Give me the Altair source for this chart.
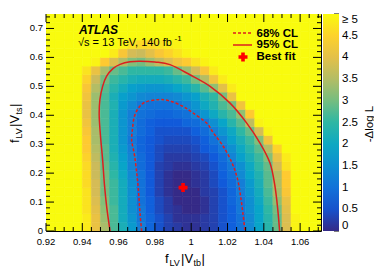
import altair as alt
import pandas as pd

FONT = "Liberation Sans"
RED_LINE = "#dc1f1f"
RED_MARK = "#ff0000"
W, H = 275, 217

# ---- axes ----------------------------------------------------------------
x_domain = [0.92, 1.0715]
y_domain = [0.0, 0.75]
x_major = [0.92, 0.94, 0.96, 0.98, 1.00, 1.02, 1.04, 1.06]
x_labels = ["0.92", "0.94", "0.96", "0.98", "1", "1.02", "1.04", "1.06"]
x_minor = [0.925, 0.93, 0.935, 0.945, 0.95, 0.955, 0.965, 0.97, 0.975,
           0.985, 0.99, 0.995, 1.005, 1.01, 1.015, 1.025, 1.03, 1.035,
           1.045, 1.05, 1.055, 1.065, 1.07]
y_major = [0.0, 0.1, 0.2, 0.3, 0.4, 0.5, 0.6, 0.7]
y_labels = ["0", "0.1", "0.2", "0.3", "0.4", "0.5", "0.6", "0.7"]
y_minor = [0.02, 0.04, 0.06, 0.08, 0.12, 0.14, 0.16, 0.18, 0.22, 0.24, 0.26,
           0.28, 0.32, 0.34, 0.36, 0.38, 0.42, 0.44, 0.46, 0.48, 0.52, 0.54,
           0.56, 0.58, 0.62, 0.64, 0.66, 0.68, 0.72, 0.74]
cbar_values = [0, 0.5, 1, 1.5, 2, 2.5, 3, 3.5, 4, 4.5, 5]
cbar_minor = [round(0.1 * k, 1) for k in range(51) if k % 5]
CBAR_MAX = 5.0

# ---- -Delta log L map (bins of 0.005 x 0.03), values in tenths; 50 = ">= 5"
x_bin_lo = [round(0.920 + 0.005 * i, 4) for i in range(31)]
y_bin_lo = [round(0.030 * j, 4) for j in range(25)]
nll_tenths = [
    [50, 50, 50, 50, 48, 41, 34, 27, 22, 17, 12, 8, 5, 3, 2, 1, 1, 2, 3, 5, 7, 10, 14, 19, 24, 29, 39, 49],
    [50, 50, 50, 50, 48, 41, 33, 27, 21, 16, 11, 8, 5, 3, 1, 1, 1, 2, 3, 5, 7, 10, 14, 19, 24, 29, 39, 49],
    [50, 50, 50, 50, 47, 40, 32, 27, 21, 15, 11, 7, 4, 2, 1, 0, 0, 1, 3, 5, 7, 11, 15, 19, 25, 30, 40],
    [50, 50, 50, 50, 47, 39, 31, 26, 21, 15, 10, 7, 4, 2, 0, 0, 0, 1, 3, 5, 8, 11, 15, 20, 26, 32, 41],
    [50, 50, 50, 50, 47, 38, 30, 26, 21, 15, 10, 6, 3, 1, 0, 0, 0, 2, 3, 5, 8, 12, 16, 21, 27, 34, 43],
    [50, 50, 50, 50, 46, 38, 30, 26, 21, 15, 10, 6, 3, 1, 0, 0, 1, 2, 4, 6, 9, 12, 17, 22, 28, 35, 44],
    [50, 50, 50, 50, 46, 37, 30, 25, 20, 14, 10, 6, 3, 1, 0, 0, 1, 2, 4, 7, 10, 14, 19, 23, 28, 35, 44],
    [50, 50, 50, 50, 46, 37, 29, 24, 19, 13, 9, 6, 3, 2, 1, 1, 2, 3, 5, 8, 11, 15, 20, 25, 29, 38, 47],
    [50, 50, 50, 50, 45, 36, 28, 23, 18, 13, 9, 6, 4, 2, 2, 2, 3, 4, 6, 9, 13, 18, 22, 26, 31, 41, 48],
    [50, 50, 50, 50, 44, 35, 28, 22, 17, 12, 8, 6, 4, 3, 3, 3, 4, 6, 8, 11, 15, 20, 24, 28, 35, 45],
    [50, 50, 50, 50, 44, 34, 27, 22, 16, 11, 8, 6, 5, 4, 4, 4, 5, 7, 10, 13, 18, 22, 26, 31, 42],
    [50, 50, 50, 50, 43, 34, 27, 22, 16, 12, 9, 7, 5, 5, 5, 5, 7, 9, 12, 16, 20, 25, 29, 38, 49],
    [50, 50, 50, 50, 42, 33, 27, 22, 16, 12, 9, 7, 6, 6, 6, 8, 9, 11, 15, 19, 24, 28, 36, 49],
    [50, 50, 50, 50, 41, 33, 27, 22, 16, 12, 10, 9, 8, 8, 9, 10, 13, 16, 20, 24, 27, 32, 44],
    [50, 50, 50, 50, 41, 33, 27, 23, 17, 14, 11, 10, 10, 10, 11, 13, 16, 20, 23, 27, 30, 42],
    [50, 50, 50, 50, 42, 33, 27, 22, 18, 16, 14, 13, 13, 13, 14, 16, 18, 22, 25, 30, 41],
    [50, 50, 50, 50, 43, 35, 28, 24, 21, 18, 17, 16, 16, 17, 19, 21, 24, 28, 32, 40, 48],
    [50, 50, 50, 50, 45, 37, 30, 26, 24, 22, 21, 21, 21, 22, 24, 26, 30, 35, 42, 48],
    [50, 50, 50, 50, 47, 41, 34, 29, 27, 25, 25, 25, 25, 26, 29, 33, 38, 43, 48],
    [50, 50, 50, 50, 50, 49, 44, 39, 35, 31, 30, 33, 36, 39, 42, 44, 47, 49],
    [50, 50, 50, 50, 50, 50, 50, 48, 43, 38, 37, 40, 43, 45, 47, 49],
    [50, 50, 50, 50, 50, 50, 50, 50, 49, 47, 46, 46, 47, 48, 49],
    [],
    [],
    [],
]

# ---- contours and best fit ----------------------------------------------
cl95_x = [0.9553, 0.9535, 0.9522, 0.9512, 0.9500, 0.9493, 0.9497, 0.9512,
          0.9534, 0.9570, 0.9608, 0.9663, 0.9718, 0.9800, 0.9883, 0.9993,
          1.0104, 1.0214, 1.0306, 1.0379, 1.0434, 1.0460, 1.0476, 1.0487]
cl95_y = [0.000, 0.080, 0.160, 0.246, 0.330, 0.400, 0.454, 0.500,
          0.535, 0.562, 0.576, 0.585, 0.587, 0.584, 0.575, 0.540,
          0.500, 0.442, 0.373, 0.304, 0.235, 0.160, 0.080, 0.000]
cl68_x = [0.9727, 0.9718, 0.9709, 0.9700, 0.9688, 0.9675, 0.9672, 0.9676,
          0.9690, 0.9736, 0.9819, 0.9880, 0.9950, 1.0005, 1.0085, 1.0122,
          1.0177, 1.0225, 1.0255, 1.0272, 1.0285, 1.0296]
cl68_y = [0.000, 0.060, 0.142, 0.200, 0.260, 0.300, 0.315, 0.350,
          0.402, 0.442, 0.454, 0.450, 0.432, 0.410, 0.373, 0.339,
          0.292, 0.235, 0.180, 0.120, 0.060, 0.000]
best_fit_x = [0.9955]
best_fit_y = [0.150]

# ---- colour map (ROOT kBird) ---------------------------------------------
bird = ["#352a87", "#0f5cdd", "#1481d6", "#06a4ca", "#2eb7a4",
        "#87bf77", "#d1bb59", "#fec832", "#f9fb0e"]
stops = [0, 0.625, 1.25, 1.875, 2.5, 3.125, 3.75, 4.375, 5]


def bird_hex(v):
    """Same colour as the fill scale; used for the hairline cell edges."""
    v = min(max(v, stops[0]), stops[-1])
    for k in range(len(stops) - 1):
        if v <= stops[k + 1]:
            f = (v - stops[k]) / (stops[k + 1] - stops[k])
            a = [int(bird[k][p:p + 2], 16) for p in (1, 3, 5)]
            b = [int(bird[k + 1][p:p + 2], 16) for p in (1, 3, 5)]
            return "#" + "".join("%02x" % round(a[c] + f * (b[c] - a[c])) for c in range(3))
    return bird[-1]


# ---- tables ---------------------------------------------------------------
recs = []
for j, row in enumerate(nll_tenths):
    full = list(row) + [50] * (len(x_bin_lo) - len(row))
    for i, v in enumerate(full[:len(x_bin_lo)]):
        recs.append({"x0": x_bin_lo[i], "x1": round(x_bin_lo[i] + 0.005, 4),
                     "y0": y_bin_lo[j], "y1": round(y_bin_lo[j] + 0.03, 4),
                     "v": v / 10.0, "edge": bird_hex(v / 10.0)})
heat_df = pd.DataFrame(recs)
c95_df = pd.DataFrame({"x": cl95_x, "y": cl95_y, "i": list(range(len(cl95_x)))})
c68_df = pd.DataFrame({"x": cl68_x, "y": cl68_y, "i": list(range(len(cl68_x)))})
bf_df = pd.DataFrame({"x": best_fit_x, "y": best_fit_y})
xl_df = pd.DataFrame({"t": x_major, "lab": x_labels})
yl_df = pd.DataFrame({"t": y_major, "lab": y_labels})
ONE = pd.DataFrame({"k": [0]})

xs = alt.Scale(domain=x_domain, nice=False, zero=False)
ys = alt.Scale(domain=y_domain, nice=False, zero=False)
cscale = alt.Scale(domain=stops, range=bird, interpolate="rgb", clamp=True)

heat = alt.Chart(heat_df).mark_rect(clip=True, strokeWidth=0.6).encode(
    x=alt.X("x0:Q", scale=xs, axis=None),
    x2="x1:Q",
    y=alt.Y("y0:Q", scale=ys, axis=None),
    y2="y1:Q",
    color=alt.Color("v:Q", scale=cscale, legend=alt.Legend(
        type="gradient", title=None, orient="right", offset=2, padding=0,
        direction="vertical", gradientLength=H, gradientThickness=16,
        gradientStrokeWidth=0, values=cbar_values, labelOverlap=False,
        labelFont=FONT, labelFontSize=11.5, labelColor="black",
        labelOffset=3, labelBaseline="middle",
        labelExpr="datum.value >= 5 ? '\u2265 5' : format(datum.value, '~g')")),
    stroke=alt.Stroke("edge:N", scale=None),
)


def contour(df, dash=None):
    kw = dict(color=RED_LINE, strokeWidth=1.5, interpolate="cardinal", clip=True)
    if dash:
        kw["strokeDash"] = dash
    return alt.Chart(df).mark_line(**kw).encode(
        x=alt.X("x:Q", scale=xs, axis=None),
        y=alt.Y("y:Q", scale=ys, axis=None),
        order=alt.Order("i:Q"))


best = alt.Chart(bf_df).mark_point(shape="cross", filled=True, size=81,
                                   color=RED_MARK, opacity=1).encode(
    x=alt.X("x:Q", scale=xs, axis=None), y=alt.Y("y:Q", scale=ys, axis=None))


def xticks(vals, y0, y1):
    return alt.Chart(pd.DataFrame({"t": vals})).mark_rule(
        color="black", strokeWidth=1).encode(
        x=alt.X("t:Q", scale=xs, axis=None), y=alt.value(y0), y2=alt.value(y1))


def yticks(vals, x0, x1):
    return alt.Chart(pd.DataFrame({"t": vals})).mark_rule(
        color="black", strokeWidth=1).encode(
        y=alt.Y("t:Q", scale=ys, axis=None), x=alt.value(x0), x2=alt.value(x1))


def cbar_ticks(vals, length):
    # colour-bar ticks: the bar spans the full plot height, 0 .. CBAR_MAX
    df = pd.DataFrame({"t": [v / CBAR_MAX * y_domain[1] for v in vals]})
    return alt.Chart(df).mark_rule(color="black", strokeWidth=1).encode(
        y=alt.Y("t:Q", scale=ys, axis=None),
        x=alt.value(W + 18 - length), x2=alt.value(W + 18))


x_ticklabels = alt.Chart(xl_df).mark_text(
    font=FONT, fontSize=9.5, color="black", align="center",
    baseline="alphabetic").encode(
    x=alt.X("t:Q", scale=xs, axis=None), y=alt.value(H + 14), text="lab:N")

y_ticklabels = alt.Chart(yl_df).mark_text(
    font=FONT, fontSize=9.5, color="black", align="right",
    baseline="middle").encode(
    y=alt.Y("t:Q", scale=ys, axis=None), x=alt.value(-3), text="lab:N")


def txt(s, x, y, size, weight="normal", style="normal", angle=0,
        align="left", color="black"):
    return alt.Chart(ONE).mark_text(
        text=s, font=FONT, fontSize=size, fontWeight=weight, fontStyle=style,
        angle=angle, align=align, baseline="alphabetic", color=color).encode(
        x=alt.value(x), y=alt.value(y))


def hline(x0, x1, y, dash=None):
    kw = dict(color=RED_LINE, strokeWidth=1.5)
    if dash:
        kw["strokeDash"] = dash
    return alt.Chart(ONE).mark_rule(**kw).encode(
        x=alt.value(x0), x2=alt.value(x1), y=alt.value(y))


layers = [
    heat,
    contour(c95_df),
    contour(c68_df, dash=[3, 2]),
    best,
    xticks(x_major, H, H - 8), xticks(x_minor, H, H - 4),
    xticks(x_major, 0, 8), xticks(x_minor, 0, 4),
    yticks(y_major, 0, 8), yticks(y_minor, 0, 4),
    yticks(y_major, W, W - 8), yticks(y_minor, W, W - 4),
    cbar_ticks(cbar_values, 5), cbar_ticks(cbar_minor, 2.5),
    x_ticklabels, y_ticklabels,
    # x title  f_LV |V_tb|
    txt("f", 119, 249, 13), txt("LV", 123.5, 252, 9), txt("|V", 135, 249, 13),
    txt("tb", 147.5, 252, 9), txt("|", 155.5, 249, 13),
    # y title  f_LV |V_ts|
    txt("f", -27.5, 129, 13, angle=270), txt("LV", -24, 124.5, 9, angle=270),
    txt("|V", -27.5, 113, 13, angle=270), txt("ts", -24, 100.5, 9, angle=270),
    txt("|", -27.5, 93, 13, angle=270),
    # colour bar title
    txt("-\u0394log L", 327, 110, 11.5, angle=270, align="center"),
    # labels
    txt("ATLAS", 33, 19.5, 12, weight="bold", style="italic"),
    txt("\u221as = 13 TeV, 140 fb", 32, 31.5, 11),
    txt("-1", 128.5, 27, 8),
    # legend
    hline(187, 206, 19, dash=[3, 2]),
    hline(187, 206, 31),
    alt.Chart(ONE).mark_point(shape="cross", filled=True, size=81,
                              color=RED_MARK, opacity=1).encode(
        x=alt.value(197), y=alt.value(43)),
    txt("68% CL", 210.5, 22.5, 11.5, weight="bold"),
    txt("95% CL", 210.5, 34, 11.5, weight="bold"),
    txt("Best fit", 210.5, 46, 11.5, weight="bold"),
]

chart = alt.layer(*layers).properties(
    width=W, height=H,
    autosize=alt.AutoSizeParams(type="none"),
    padding={"left": 38, "top": 6, "right": 53, "bottom": 37},
).configure(font=FONT).configure_view(stroke="black", strokeWidth=1)

chart.save("out.html", embed_options={"renderer": "svg", "actions": False})
